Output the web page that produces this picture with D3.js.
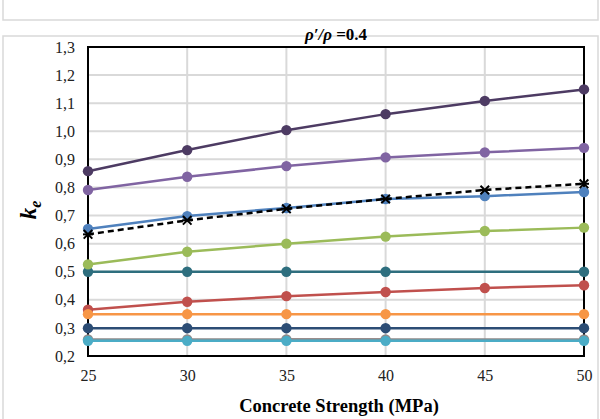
<!DOCTYPE html>
<html><head><meta charset="utf-8">
<script src="https://cdn.jsdelivr.net/npm/d3@7"></script>
<style>body{margin:0;background:#fff}svg{display:block}</style>
</head><body>
<svg id="c" width="600" height="419"></svg>
<script>
const xAll = [25, 30, 35, 40, 45, 50];
const xConst = [25, 30, 35, 40, 50];
const yTicks = [0.2,0.3,0.4,0.5,0.6,0.7,0.8,0.9,1.0,1.1,1.2,1.3];
const xTicks = [25,30,35,40,45,50];

const sDarkRed   = [0.258, 0.258];
const sGray      = [0.259, 0.259, 0.259, 0.259, 0.259];
const sCyan      = [0.254, 0.254, 0.254, 0.254, 0.254];
const sNavy      = [0.299, 0.299, 0.299, 0.299, 0.299];
const sOrange    = [0.349, 0.349, 0.349, 0.349, 0.349];
const sRed       = [0.365, 0.393, 0.413, 0.428, 0.442, 0.452];
const sTeal      = [0.500, 0.500, 0.500, 0.500, 0.500];
const sGreen     = [0.526, 0.571, 0.600, 0.625, 0.645, 0.657];
const sBlue      = [0.652, 0.698, 0.727, 0.759, 0.769, 0.784];
const sDashed    = [0.633, 0.683, 0.724, 0.759, 0.791, 0.813];
const sLavender  = [0.791, 0.838, 0.876, 0.907, 0.925, 0.941];
const sPurple    = [0.858, 0.933, 1.004, 1.061, 1.108, 1.149];

const series = [
  {x:[35,40], y:sDarkRed, color:"#7a2e2c", marker:null},
  {x:xConst, y:sGray, color:"#8f8a8a", marker:"circle"},
  {x:xConst, y:sCyan, color:"#4BACC6", marker:"circle"},
  {x:xConst, y:sNavy, color:"#2C4D75", marker:"circle"},
  {x:xAll, y:sRed, color:"#C0504D", marker:"circle"},
  {x:xConst, y:sOrange, color:"#F79646", marker:"circle"},
  {x:xConst, y:sTeal, color:"#2E6E7E", marker:"circle"},
  {x:xAll, y:sGreen, color:"#9BBB59", marker:"circle"},
  {x:xAll, y:sBlue, color:"#4F81BD", marker:"circle"},
  {x:xAll, y:sDashed, color:"#000000", marker:"star", dash:"6,4"},
  {x:xAll, y:sLavender, color:"#8064A2", marker:"circle"},
  {x:xAll, y:sPurple, color:"#4D3B63", marker:"circle"}
];

const FONT = "Liberation Serif";
const svg = d3.select("#c");
const L = 88, R = 584, T = 47, B = 356;
const x = d3.scaleLinear().domain([25,50]).range([L,R]);
const y = d3.scaleLinear().domain([0.2,1.3]).range([B,T]);

// outer boxes
svg.append("rect").attr("x",3).attr("y",-10).attr("width",595).attr("height",30)
  .attr("fill","none").attr("stroke","#d9d9d9").attr("stroke-width",1.5);
svg.append("rect").attr("x",3).attr("y",36).attr("width",595).attr("height",390)
  .attr("fill","none").attr("stroke","#d9d9d9").attr("stroke-width",1.5);

// grid
const g = svg.append("g");
g.selectAll(".hg").data(yTicks).join("line")
  .attr("x1",L).attr("x2",R).attr("y1",d=>y(d)).attr("y2",d=>y(d))
  .attr("stroke","#d9d9d9").attr("stroke-width",2);
g.selectAll(".vg").data(xTicks).join("line")
  .attr("y1",T).attr("y2",B).attr("x1",d=>x(d)).attr("x2",d=>x(d))
  .attr("stroke","#d9d9d9").attr("stroke-width",2);

// axes
const ya = svg.append("g").attr("transform",`translate(${L},0)`)
  .call(d3.axisLeft(y).tickValues(yTicks).tickSize(0).tickPadding(13)
    .tickFormat(d=>d3.format(".1f")(d).replace(".",",")));
ya.attr("font-family",FONT).attr("font-size",16);
ya.select(".domain").remove();
ya.selectAll("text").attr("font-family",FONT).attr("font-size",16).attr("fill","#222");
const xa = svg.append("g").attr("transform",`translate(0,${B})`)
  .call(d3.axisBottom(x).tickValues(xTicks).tickSize(0).tickPadding(14).tickFormat(d3.format("d")));
xa.attr("font-family",FONT).attr("font-size",16);
xa.select(".domain").remove();
xa.selectAll("text").attr("font-family",FONT).attr("font-size",16).attr("fill","#222");

// plot border
svg.append("rect").attr("x",L).attr("y",T).attr("width",R-L).attr("height",B-T)
  .attr("fill","none").attr("stroke","#000").attr("stroke-width",2);

// series
const line = d3.line().x(d=>x(d[0])).y(d=>y(d[1]));
series.forEach(s=>{
  const pts = s.x.map((v,i)=>[v,s.y[i]]);
  svg.append("path").attr("d",line(pts)).attr("fill","none")
    .attr("stroke",s.color).attr("stroke-width",2.5)
    .attr("stroke-dasharray",s.dash||null);
  if (s.marker==="circle") {
    svg.append("g").selectAll("circle").data(pts).join("circle")
      .attr("cx",d=>x(d[0])).attr("cy",d=>y(d[1])).attr("r",5.2).attr("fill",s.color);
  } else if (s.marker==="star") {
    const sym = d3.symbol().type(d3.symbolX).size(50);
    const gg = svg.append("g");
    pts.forEach(d=>{
      const m = gg.append("g").attr("transform",`translate(${x(d[0])},${y(d[1])})`);
      m.append("path").attr("d",sym()).attr("fill","none").attr("stroke","#000").attr("stroke-width",2);
      m.append("line").attr("x1",-5).attr("x2",5).attr("y1",0).attr("y2",0).attr("stroke","#000").attr("stroke-width",2);
    });
  }
});

// title
const title = svg.append("text").attr("x",336).attr("y",40).attr("text-anchor","middle")
  .attr("font-family",FONT).attr("font-size",17).attr("font-weight","bold").attr("fill","#000");
title.append("tspan").attr("font-style","italic").text("ρ′/ρ");
title.append("tspan").text(" =0.4");

// axis titles
svg.append("text").attr("x",339).attr("y",412).attr("text-anchor","middle")
  .attr("font-family",FONT).attr("font-size",18.5).attr("font-weight","bold").text("Concrete Strength (MPa)");
const yl = svg.append("text").attr("transform","translate(36,210) rotate(-90)").attr("text-anchor","middle")
  .attr("font-family",FONT).attr("font-size",23).attr("font-weight","bold").attr("font-style","italic");
yl.append("tspan").text("k");
yl.append("tspan").attr("font-size",16).attr("dy",5).text("e");
</script>
</body></html>
